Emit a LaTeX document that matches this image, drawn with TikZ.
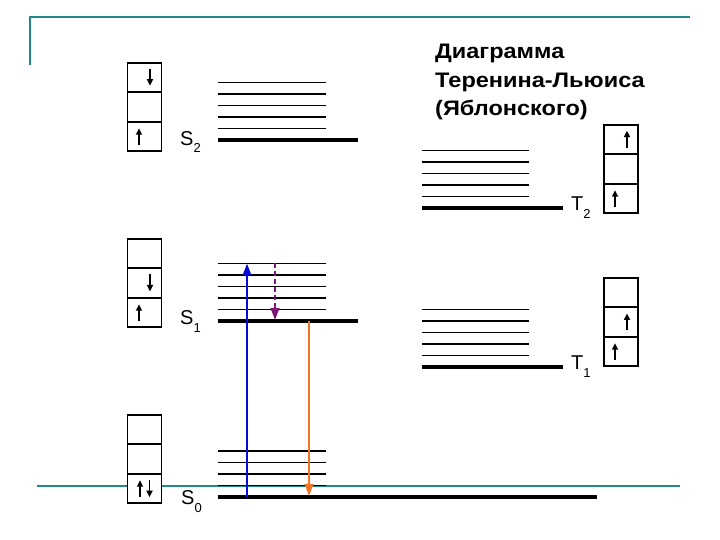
\documentclass[tikz,border=0pt]{standalone}
\usepackage{fontspec}
\setmainfont{Liberation Sans}
\newfontfamily\titlefont[FakeStretch=1.12]{Liberation Sans}
\usetikzlibrary{arrows.meta, positioning}
\definecolor{frameteal}{RGB}{35,135,140}
\definecolor{absblue}{RGB}{10,10,215}
\definecolor{icpurple}{RGB}{125,20,120}
\definecolor{florange}{RGB}{240,115,35}
\newcommand{\levelsub}[1]{\raisebox{-7.5pt}{\fontsize{13}{14}\selectfont #1}}

\begin{document}
\begin{tikzpicture}[
    x=1pt, y=1pt,
    frame/.style={draw=frameteal, line width=1.5pt},
    vib/.style={draw, line width=1.6pt},
    level/.style={draw, line width=3.5pt},
    cell/.style={rectangle, draw, fill=white, line width=1.3pt, minimum width=34pt, minimum height=28.5pt, inner sep=0pt},
    spin/.style={-{Triangle[width=6pt,length=6.5pt]}, line width=1.6pt},
    term/.style={font=\fontsize{20}{22}\selectfont, inner sep=0pt},
    title/.style={align=left, font=\titlefont\fontsize{21}{28.5}\selectfont\bfseries, inner sep=0pt},
    transition/.style={-{Triangle[width=8.5pt,length=12pt]}, line width=2.4pt}
]
    \useasboundingbox (0,0) rectangle (720,540);

    % frame lines
    \draw[frame] (30,475) -- (30,523) -- (690,523);
    \draw[frame] (37,54) -- (680,54);

    % title
    \node[title, anchor=north west] (title) at (435,496) {Диаграмма\\Теренина-Льюиса\\(Яблонского)};

    % singlet levels
    \foreach \y in {411.5,423,434.5,446,457.5}
        \draw[vib] (218,\y) -- (326,\y);
    \draw[level] (218,400) -- (358,400);
    \foreach \y in {230.5,242,253.5,265,276.5}
        \draw[vib] (218,\y) -- (326,\y);
    \draw[level] (218,219) -- (358,219);
    \foreach \y in {54.5,66,77.5,89}
        \draw[vib] (218,\y) -- (326,\y);
    \draw[level] (218,43) -- (597,43);

    % triplet levels
    \foreach \y in {343.5,355,366.5,378,389.5}
        \draw[vib] (422,\y) -- (529,\y);
    \draw[level] (422,332) -- (563,332);
    \foreach \y in {184.5,196,207.5,219,230.5}
        \draw[vib] (422,\y) -- (529,\y);
    \draw[level] (422,173) -- (563,173);

    % state labels
    \node[term, anchor=base west] (s2lab) at (180,394.5) {S\levelsub{2}};
    \node[term, anchor=base west] (s1lab) at (180,215) {S\levelsub{1}};
    \node[term, anchor=base west] (s0lab) at (181,35) {S\levelsub{0}};
    \node[term, anchor=base west] (t2lab) at (571,329) {T\levelsub{2}};
    \node[term, anchor=base west] (t1lab) at (571,170) {T\levelsub{1}};

    % orbital boxes
    \node[cell] (s2a) at (144.5,403.25) {};
    \node[cell, above=0pt of s2a] (s2b) {};
    \node[cell, above=0pt of s2b] (s2c) {};
    \node[cell] (s1a) at (144.5,227.25) {};
    \node[cell, above=0pt of s1a] (s1b) {};
    \node[cell, above=0pt of s1b] (s1c) {};
    \node[cell] (s0a) at (144.5,51.25) {};
    \node[cell, above=0pt of s0a] (s0b) {};
    \node[cell, above=0pt of s0b] (s0c) {};
    \node[cell] (t2a) at (621,341.25) {};
    \node[cell, above=0pt of t2a] (t2b) {};
    \node[cell, above=0pt of t2b] (t2c) {};
    \node[cell] (t1a) at (621,188.25) {};
    \node[cell, above=0pt of t1a] (t1b) {};
    \node[cell, above=0pt of t1b] (t1c) {};

    % electron spins
    \draw[spin] ([xshift=-5.5pt,yshift=-8.5pt]s2a.center) -- ([xshift=-5.5pt,yshift=8.5pt]s2a.center);
    \draw[spin] ([xshift=5.5pt,yshift=8.5pt]s2c.center) -- ([xshift=5.5pt,yshift=-8.5pt]s2c.center);
    \draw[spin] ([xshift=-5.5pt,yshift=-8.5pt]s1a.center) -- ([xshift=-5.5pt,yshift=8.5pt]s1a.center);
    \draw[spin] ([xshift=5.5pt,yshift=8.5pt]s1b.center) -- ([xshift=5.5pt,yshift=-8.5pt]s1b.center);
    \draw[spin] ([xshift=-4.5pt,yshift=-8.5pt]s0a.center) -- ([xshift=-4.5pt,yshift=8.5pt]s0a.center);
    \draw[spin] ([xshift=5pt,yshift=8.5pt]s0a.center) -- ([xshift=5pt,yshift=-8.5pt]s0a.center);
    \draw[spin] ([xshift=-6pt,yshift=-8.5pt]t2a.center) -- ([xshift=-6pt,yshift=8.5pt]t2a.center);
    \draw[spin] ([xshift=6pt,yshift=-8.5pt]t2c.center) -- ([xshift=6pt,yshift=8.5pt]t2c.center);
    \draw[spin] ([xshift=-6pt,yshift=-8.5pt]t1a.center) -- ([xshift=-6pt,yshift=8.5pt]t1a.center);
    \draw[spin] ([xshift=6pt,yshift=-8.5pt]t1b.center) -- ([xshift=6pt,yshift=8.5pt]t1b.center);

    % transitions
    \coordinate (abs0) at (247,43);
    \coordinate (abs1) at (247,276.5);
    \coordinate (ic1) at (275,276.5);
    \coordinate (ic0) at (275,220);
    \coordinate (fl1) at (309,219);
    \coordinate (fl0) at (309,44);
    \draw[transition, absblue] (abs0) -- (abs1);
    \draw[transition, icpurple, dash pattern=on 5pt off 3pt] (ic1) -- (ic0);
    \draw[transition, florange] (fl1) -- (fl0);
\end{tikzpicture}
\end{document}
